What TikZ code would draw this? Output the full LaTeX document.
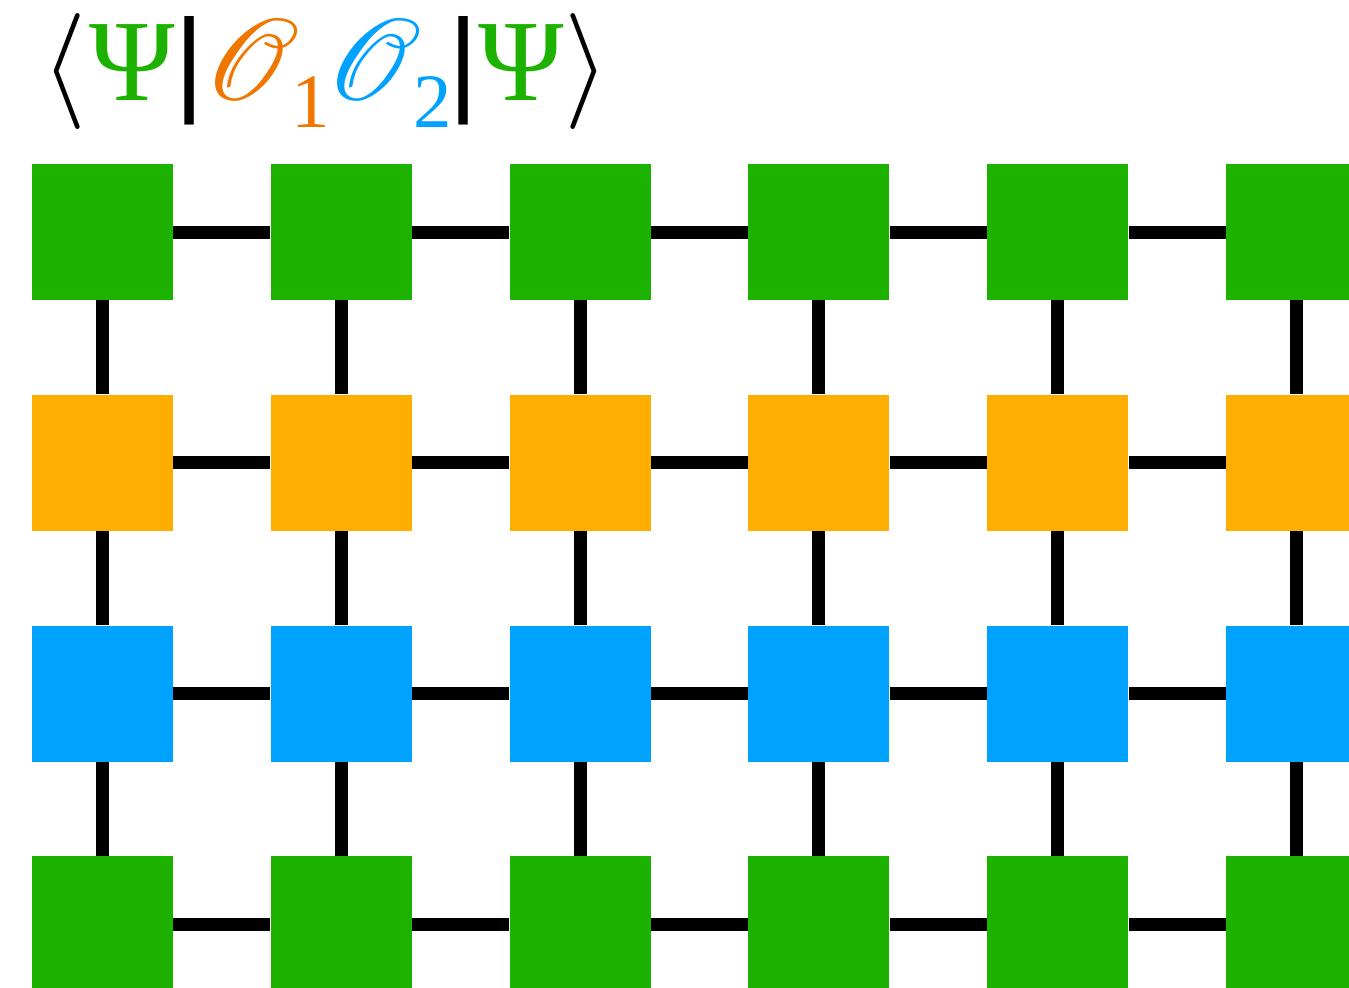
\documentclass[tikz,border=0pt]{standalone}
\usepackage{amsmath,amssymb,mathrsfs}
\usepackage{fontspec}
\setmainfont{Liberation Serif}
\newfontfamily\barfont{Liberation Sans}
\usepackage{tikz}
\usetikzlibrary{positioning}

\definecolor{psigreen}{HTML}{1DB100}
\definecolor{opone}{HTML}{F07600}
\definecolor{optwo}{HTML}{00A2FF}
\definecolor{tileorange}{HTML}{FEAE00}

\newcommand{\subidx}[1]{\kern-0.07em\raisebox{-0.24em}{\fontsize{16.5}{18}\selectfont #1}\kern-0.03em}

\begin{document}
\begin{tikzpicture}[x=0.5pt, y=-0.5pt,
  tile/.style={rectangle, inner sep=0pt, minimum width=70.5pt, minimum height=68pt},
  bond/.style={line width=6.5pt, black}]
\useasboundingbox (0,0) rectangle (1349,987);
% title
\node[anchor=base west, inner sep=0pt, font=\Huge, scale=2.33] (title) at (41,100)
  {$\langle$\kern0.02em{\color{psigreen}Ψ}{\barfont|}{\color{opone}$\mathscr{O}$\subidx{1}}{\color{optwo}$\mathscr{O}$\subidx{2}}{\barfont|}{\color{psigreen}Ψ}$\rangle$};
% tiles: row 1 = psi, row 2 = O1, row 3 = O2, row 4 = psi
\foreach \r/\col in {1/psigreen, 2/tileorange, 3/optwo, 4/psigreen} {
  \foreach \c in {1,...,6} {
    \node[tile, fill=\col] (t-\r-\c) at ({102.5+238.8*(\c-1)}, {232+230.8*(\r-1)}) {};
  }
}
% horizontal bonds
\foreach \r in {1,...,4} {
  \foreach \c [evaluate=\c as \n using int(\c+1)] in {1,...,5} {
    \draw[bond] (t-\r-\c) -- (t-\r-\n);
  }
}
% vertical bonds
\foreach \c in {1,...,6} {
  \foreach \r [evaluate=\r as \n using int(\r+1)] in {1,...,3} {
    \draw[bond] (t-\r-\c) -- (t-\n-\c);
  }
}
\end{tikzpicture}
\end{document}
